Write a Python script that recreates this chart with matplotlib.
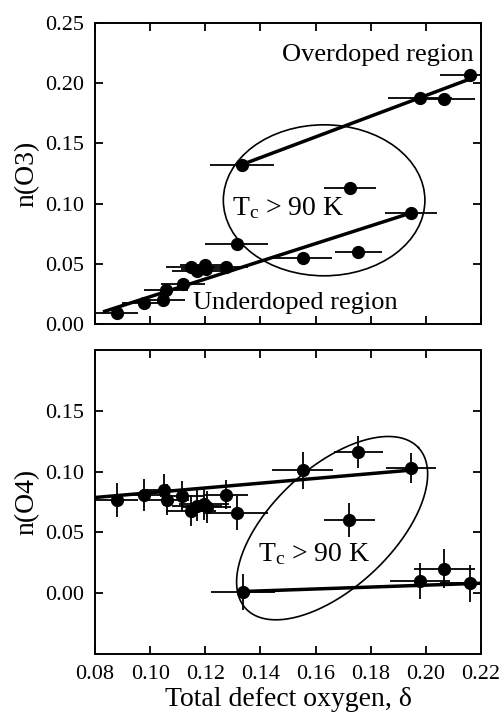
import numpy as np
import matplotlib
matplotlib.use("Agg")
import matplotlib.pyplot as plt
from matplotlib.patches import Ellipse

plt.rcParams['font.family'] = ['Liberation Serif', 'DejaVu Serif']
plt.rcParams['mathtext.fontset'] = 'custom'
plt.rcParams['mathtext.rm'] = 'Liberation Serif'
plt.rcParams['mathtext.it'] = 'Liberation Serif'

# total defect oxygen (same samples in both panels)
x_o3 = [0.0879, 0.0978, 0.1048, 0.1056, 0.1118, 0.1147, 0.1169, 0.1199, 0.1203, 0.1275,
        0.1314, 0.1332, 0.1553, 0.1725, 0.1755, 0.1946, 0.1979, 0.2067, 0.2160]
n_o3 = [0.009, 0.017, 0.020, 0.028, 0.033, 0.047, 0.044, 0.049, 0.046, 0.047,
        0.066, 0.132, 0.055, 0.113, 0.060, 0.092, 0.188, 0.187, 0.207]
xerr_o3 = [0.0076, 0.008, 0.008, 0.008, 0.008, 0.009, 0.009, 0.009, 0.009, 0.008,
           0.0115, 0.0116, 0.0105, 0.0093, 0.0086, 0.0094, 0.0117, 0.011, 0.011]
yerr_o3 = [0.003] * len(x_o3)

x_o4 = [0.0879, 0.0978, 0.1050, 0.1060, 0.1114, 0.1148, 0.1169, 0.1195, 0.1205, 0.1275,
        0.1314, 0.1336, 0.1553, 0.1722, 0.1755, 0.1946, 0.1979, 0.2067, 0.2160]
n_o4 = [0.077, 0.081, 0.085, 0.077, 0.080, 0.068, 0.072, 0.073, 0.071, 0.081,
        0.066, 0.001, 0.101, 0.060, 0.116, 0.103, 0.010, 0.020, 0.008]
xerr_o4 = [0.0076, 0.008, 0.008, 0.008, 0.008, 0.009, 0.009, 0.009, 0.009, 0.008,
           0.0115, 0.0117, 0.011, 0.0093, 0.0088, 0.0092, 0.011, 0.011, 0.011]
yerr_o4 = [0.014, 0.013, 0.013, 0.013, 0.012, 0.013, 0.013, 0.013, 0.013, 0.012,
           0.014, 0.015, 0.015, 0.014, 0.013, 0.012, 0.015, 0.016, 0.015]

# guide lines
over_x, over_y = [0.1332, 0.2160], [0.1323, 0.2035]
under_x, under_y = [0.0835, 0.1946], [0.0105, 0.0922]
o4_hi_x, o4_hi_y = [0.0800, 0.1946], [0.0787, 0.1012]
o4_lo_x, o4_lo_y = [0.1336, 0.2200], [0.0014, 0.0082]

xticks = [0.08, 0.10, 0.12, 0.14, 0.16, 0.18, 0.20, 0.22]

fig = plt.figure(figsize=(5.02, 7.15), dpi=100)
ax1 = fig.add_axes([0.1892, 0.5469, 0.769, 0.4210])
ax2 = fig.add_axes([0.1892, 0.0853, 0.769, 0.4252])

def style(ax):
    ax.set_xlim(0.08, 0.22)
    ax.set_xticks(xticks)
    ax.tick_params(direction='in', top=True, right=True, length=6, width=1.3,
                   labelsize=16, pad=8)
    for s in ax.spines.values():
        s.set_linewidth(1.4)

eb = dict(fmt='o', color='black', ms=8.5, elinewidth=1.3, capsize=0, zorder=3)

# top panel: n(O3)
ax1.errorbar(x_o3, n_o3, xerr=xerr_o3, yerr=yerr_o3, **eb)
ax1.plot(over_x, over_y, color='black', lw=2.5)
ax1.plot(under_x, under_y, color='black', lw=2.5)
ax1.add_patch(Ellipse((0.1631, 0.1027), 0.0731, 0.1254, fill=False, lw=1.2, color='black'))
style(ax1)
ax1.set_ylim(0, 0.25)
ax1.set_yticks([0.00, 0.05, 0.10, 0.15, 0.20, 0.25])
ax1.set_yticklabels(['0.00', '0.05', '0.10', '0.15', '0.20', '0.25'])
ax1.set_xticklabels([])
ax1.set_ylabel('n(O3)', fontsize=20, labelpad=4)
ax1.text(0.2172, 0.2232, 'Overdoped region', fontsize=19, ha='right', va='center')
ax1.text(0.1154, 0.0170, 'Underdoped region', fontsize=19, ha='left', va='center')
ax1.text(0.1296, 0.0963, r'T$_{\rm c}$ > 90 K', fontsize=20, ha='left', va='center')

# bottom panel: n(O4)
ax2.errorbar(x_o4, n_o4, xerr=xerr_o4, yerr=yerr_o4, **eb)
ax2.plot(o4_hi_x, o4_hi_y, color='black', lw=2.5)
ax2.plot(o4_lo_x, o4_lo_y, color='black', lw=2.5)
# tilted loop, defined in screen-like units then mapped to data
t = np.linspace(0, 2 * np.pi, 300)
th = np.deg2rad(43)
a, b = 118, 60
sx, sy = 2757, 1216
ex = 0.1660 + (a * np.cos(t) * np.cos(th) - b * np.sin(t) * np.sin(th)) / sx
ey = 0.0535 + (a * np.cos(t) * np.sin(th) + b * np.sin(t) * np.cos(th)) / sy
ax2.plot(ex, ey, color='black', lw=1.2)
style(ax2)
ax2.set_ylim(-0.05, 0.20)
ax2.set_yticks([0.00, 0.05, 0.10, 0.15])
ax2.set_yticklabels(['0.00', '0.05', '0.10', '0.15'])
ax2.set_xticklabels(['0.08', '0.10', '0.12', '0.14', '0.16', '0.18', '0.20', '0.22'])
ax2.set_ylabel('n(O4)', fontsize=20, labelpad=4)
ax2.set_xlabel('Total defect oxygen, δ', fontsize=20)
ax2.xaxis.label.set_va('baseline')
ax2.xaxis.set_label_coords(0.5, -0.172)
ax2.text(0.1392, 0.032, r'T$_{\rm c}$ > 90 K', fontsize=20, ha='left', va='center')

fig.savefig('out.png', dpi=100, facecolor='white')
